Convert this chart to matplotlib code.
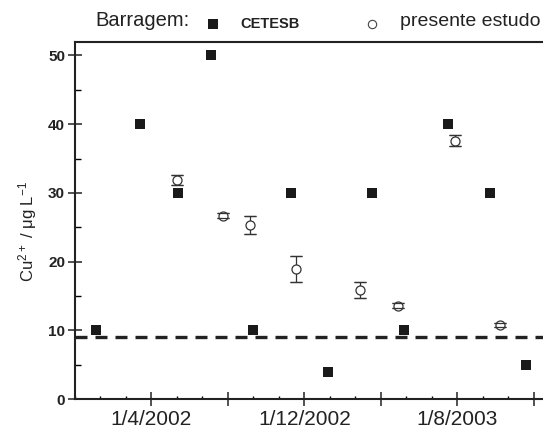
import matplotlib
matplotlib.use("Agg")
import matplotlib.pyplot as plt
from matplotlib.lines import Line2D
from matplotlib.ticker import FixedLocator, MultipleLocator

plt.rcParams['font.family'] = ['Liberation Sans', 'DejaVu Sans']
plt.rcParams['mathtext.fontset'] = 'custom'
plt.rcParams['mathtext.rm'] = 'Liberation Sans'
plt.rcParams['mathtext.default'] = 'regular'

# eixo x em meses contados a partir de 1/12/2001
cetesb_mes = [1.1, 3.4, 5.4, 7.1, 9.3, 11.3, 13.25, 15.55, 17.2, 19.5, 21.7, 23.6]
cetesb_cu = [10, 40, 30, 50, 10, 30, 4, 30, 10, 40, 30, 5]

estudo_mes = [5.35, 7.75, 9.15, 11.55, 14.9, 16.9, 19.9, 22.25]
estudo_cu = [31.9, 26.7, 25.3, 18.9, 15.9, 13.6, 37.6, 10.8]
estudo_err = [0.7, 0.3, 1.3, 1.9, 1.2, 0.3, 0.8, 0.3]

limite_cu = 9  # valor de referencia (linha tracejada)

ticks_mes = [4, 8, 12, 16, 20, 24]
ticks_rotulo = ['1/4/2002', '', '1/12/2002', '', '1/8/2003', '']

fig = plt.figure(figsize=(5.43, 4.33), dpi=100)
ax = fig.add_axes([0.1378, 0.0785, 1 - 0.1378, 0.9037 - 0.0785])

ax.axhline(limite_cu, color='#222222', lw=2.4, dashes=(3.6, 2.4), zorder=1)

ax.plot(cetesb_mes, cetesb_cu, 's', color='#1a1a1a', ms=7.6, mew=0, zorder=3)

# barras de erro, depois os circulos, depois os "caps" por cima
ax.errorbar(estudo_mes, estudo_cu, yerr=estudo_err, fmt='none', ecolor='#333333',
            elinewidth=0.9, capsize=4.5, capthick=0.9, zorder=2)
ax.plot(estudo_mes, estudo_cu, 'o', mfc='white', mec='#333333', mew=0.9, ms=6.5, zorder=4)
ax.errorbar(estudo_mes, estudo_cu, yerr=estudo_err, fmt='none', ecolor='#333333',
            elinewidth=0, capsize=4.5, capthick=0.9, zorder=5)

ax.set_xlim(0, 24.48)
ax.set_ylim(0, 52)

ax.xaxis.set_major_locator(FixedLocator(ticks_mes))
ax.xaxis.set_minor_locator(MultipleLocator(4 / 3))
ax.set_xticklabels(ticks_rotulo)
ax.yaxis.set_major_locator(MultipleLocator(10))
ax.yaxis.set_minor_locator(MultipleLocator(5))

for s in ['left', 'bottom', 'top']:
    ax.spines[s].set_linewidth(1.5)
    ax.spines[s].set_color('#222222')
ax.spines['right'].set_visible(False)

ax.tick_params(axis='x', which='major', direction='inout', length=10, width=1.1,
               labelsize=15, pad=3, colors='#222222')
ax.tick_params(axis='x', which='minor', direction='in', length=2.5, width=1.0)
ax.tick_params(axis='y', which='major', direction='inout', length=10, width=1.1,
               labelsize=11, pad=2, colors='#222222')
ax.tick_params(axis='y', which='minor', direction='in', length=4.5, width=1.0)
ax.tick_params(top=False, right=False, which='both')
for lbl in ax.get_yticklabels():
    lbl.set_fontweight('bold')

fig.text(0.0516, 0.4665, r'Cu$^{2+}$ / $\mu$g L$^{-1}$', rotation=90,
         ha='center', va='center', fontsize=12, color='#222222')

# legenda no topo
fig.text(95 / 543, 1 - 21 / 433, 'Barragem:', fontsize=14.5, ha='left', va='center',
         color='#222222')
fig.add_artist(Line2D([213 / 543], [1 - 24 / 433], marker='s', ms=7.2, mew=0,
                      color='#1a1a1a', ls='none'))
fig.text(240 / 543, 1 - 23.5 / 433, 'CETESB', fontsize=10.5, fontweight='bold',
         ha='left', va='center', color='#222222')
fig.add_artist(Line2D([372 / 543], [1 - 24 / 433], marker='o', ms=6, mew=0.8,
                      mfc='white', mec='#444444', ls='none'))
fig.text(400 / 543, 1 - 21 / 433, 'presente estudo', fontsize=14, ha='left',
         va='center', color='#222222')

fig.savefig('out.png', dpi=100)
